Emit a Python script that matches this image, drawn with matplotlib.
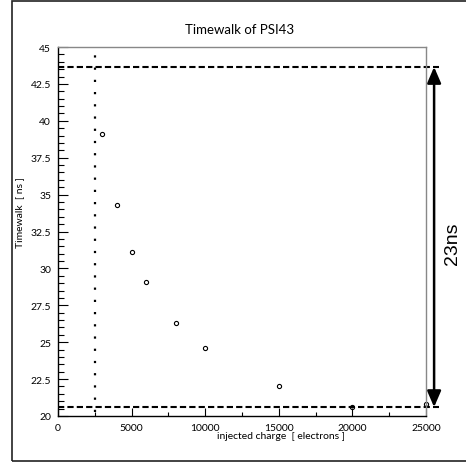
import matplotlib
matplotlib.use("Agg")
import matplotlib.pyplot as plt
from matplotlib.patches import Rectangle, FancyArrowPatch
from matplotlib.ticker import MultipleLocator

plt.rcParams['font.family'] = ['Lato', 'DejaVu Sans']

# data
charge = [3000, 4000, 5000, 6000, 8000, 10000, 15000, 20000, 25000]
timewalk = [39.1, 34.3, 31.1, 29.05, 26.3, 24.6, 22.0, 20.6, 20.8]

thr_charge = 2500          # vertical dotted line
tw_high = 43.65            # upper dashed line
tw_low = 20.6              # lower dashed line
span_label = "23ns"

fig = plt.figure(figsize=(4.66, 4.64), dpi=100)
fig.patches.append(Rectangle((12 / 466, 2 / 464), 1.2, 460 / 464,
                             transform=fig.transFigure, fill=False,
                             edgecolor='#222222', linewidth=1.2))

ax = fig.add_axes([58 / 466, 47 / 464, 368 / 466, 369 / 464])
ax.plot(charge, timewalk, linestyle='none', marker='o', markersize=3,
        markerfacecolor='white', markeredgecolor='black', markeredgewidth=0.8,
        zorder=1, clip_on=False)

ax.set_xlim(0, 25000)
ax.set_ylim(20, 45)

# guide lines
ax.plot([0, 25900], [tw_high, tw_high], color='black', lw=1.5,
        linestyle=(0, (3, 1.5)), clip_on=False, zorder=2)
ax.plot([0, 25900], [tw_low, tw_low], color='black', lw=1.5,
        linestyle=(0, (3, 1.5)), clip_on=False, zorder=2)
ax.plot([thr_charge, thr_charge], [20.3, 45], color='black', lw=1.6,
        linestyle=(0, (1, 4.5)), clip_on=False, zorder=2)

arrow = FancyArrowPatch((25550, tw_low), (25550, tw_high),
                        arrowstyle='<|-|>,head_length=0.65,head_width=0.28',
                        mutation_scale=15, color='black', lw=1.8,
                        shrinkA=0, shrinkB=0, clip_on=False)
ax.add_patch(arrow)
fig.text(452 / 466, 1 - 244 / 464, span_label, rotation=90, ha='center',
         va='center', fontsize=14, family=['Liberation Sans', 'DejaVu Sans'])

# axes styling
ax.xaxis.set_major_locator(MultipleLocator(5000))
ax.xaxis.set_minor_locator(MultipleLocator(2500))
ax.yaxis.set_major_locator(MultipleLocator(2.5))
ax.yaxis.set_minor_locator(MultipleLocator(0.5))
ax.tick_params(which='both', direction='in', top=False, right=False,
               labelsize=7.5, pad=5)
ax.tick_params(axis='y', which='major', length=7, width=0.8)
ax.tick_params(axis='y', which='minor', length=4, width=0.8)
ax.tick_params(axis='x', which='major', length=6, width=0.8)
ax.tick_params(axis='x', which='minor', length=3, width=0.8)
ax.set_yticks([20, 22.5, 25, 27.5, 30, 32.5, 35, 37.5, 40, 42.5, 45])
ax.set_yticklabels(['20', '22.5', '25', '27.5', '30', '32.5', '35',
                    '37.5', '40', '42.5', '45'])
for side in ['left', 'bottom']:
    ax.spines[side].set_color('black')
    ax.spines[side].set_linewidth(1.0)
for side in ['top', 'right']:
    ax.spines[side].set_color('#888888')
    ax.spines[side].set_linewidth(1.0)

fig.text(240 / 466, 1 - 30 / 464, "Timewalk of PSI43", ha='center',
         va='center', fontsize=9.5)
fig.text(345 / 466, 1 - 437 / 464, "injected charge  [ electrons ]",
         ha='right', va='center', fontsize=7.5)
fig.text(20 / 466, 1 - 177 / 464, "Timewalk  [ ns ]", rotation=90,
         ha='center', va='top', fontsize=7.5)

fig.savefig("out.png", dpi=100)
